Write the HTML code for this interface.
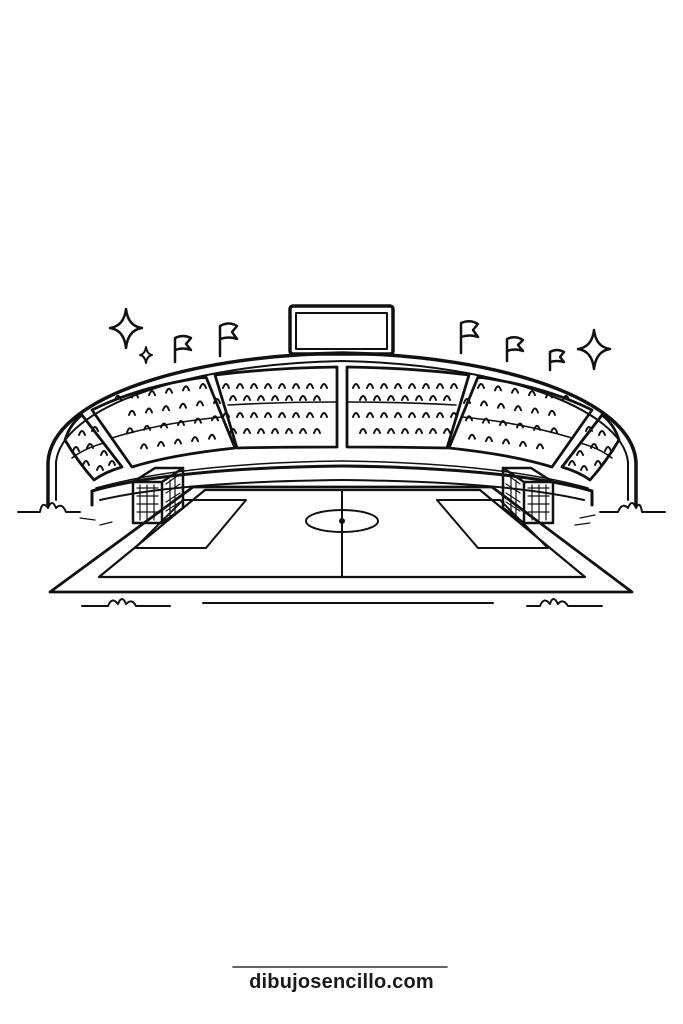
<!DOCTYPE html>
<html><head><meta charset="utf-8"><style>
html,body{margin:0;padding:0;background:#fff;}
body{width:683px;height:1024px;position:relative;overflow:hidden;}
svg{position:absolute;left:0;top:0;}
.t{position:absolute;left:0;width:683px;top:971px;text-align:center;font-family:"Liberation Sans",sans-serif;font-weight:bold;font-size:20px;color:#1a1a1a;letter-spacing:0.2px;}
</style></head><body>
<svg width="683" height="1024" viewBox="0 0 683 1024" fill="none" stroke="#111" stroke-linecap="round" stroke-linejoin="round">
<!-- scoreboard -->
<rect x="290" y="306" width="103" height="48" rx="3" stroke-width="3.5"/>
<rect x="296" y="313" width="91" height="36" stroke-width="2"/>
<!-- sparkles -->
<path d="M126,309 Q128,326 142,328 Q128,330 126,348 Q124,330 110,328 Q124,326 126,309Z" stroke-width="2.5"/>
<path d="M146,347 Q147,354 152,355 Q147,356 146,363 Q145,356 140,355 Q145,354 146,347Z" stroke-width="2"/>
<path d="M594,330 Q596,347 610,349 Q596,351 594,369 Q592,351 578,349 Q592,347 594,330Z" stroke-width="2.5"/>
<!-- flags -->
<g stroke-width="2.5">
<path d="M175,362 L175,338 Q183,334 191,338 L186,344 L191,350 Q183,347 175,350"/>
<path d="M220,356 L220,326 Q229,321 237,326 L232,332 L237,339 Q229,336 220,339"/>
<path d="M461,353 L461,323 Q470,319 478,324 L473,330 L478,337 Q470,334 461,337"/>
<path d="M507,361 L507,339 Q515,335 523,340 L518,345 L523,351 Q515,348 507,351"/>
<path d="M550,370 L550,352 Q557,348 564,352 L560,357 L564,362 Q557,360 550,362"/>
</g>
<!-- stadium outline -->
<path d="M48,506 L48,462 C52,400 180,356 342,353 C504,356 632,400 636,462 L636,506" stroke-width="3.5"/>
<path d="M56,500 L56,462 C62,408 185,364 342,361 C499,364 622,408 628,462 L628,500" stroke-width="2"/>
<path d="M92,505 L92,491 C150,474 250,467 342,466 C434,467 534,474 592,491 L592,505" stroke-width="3"/>
<path d="M96,488 C160,470 250,462 342,461" stroke-width="1.5"/>
<path d="M588,488 C524,470 434,462 342,461" stroke-width="1.5"/>
<path d="M100,500 C160,486 250,481 342,480 C434,481 524,486 584,500" stroke-width="2"/>
<!-- panels -->
<g stroke-width="2.8">
<path d="M65,440 Q70,424 82,415 L122,467 Q105,472 94,480 Q78,462 65,440Z"/>
<path d="M92,410 Q140,386 206,377 L235,448 Q170,455 132,467 Z"/>
<path d="M215,375 Q270,368 337,367 L337,447 Q280,447 237,448 Z"/>
<path d="M347,367 Q414,368 469,375 L447,448 Q404,447 347,447 Z"/>
<path d="M478,377 Q544,386 592,410 L552,467 Q514,455 449,448 Z"/>
<path d="M619,440 Q614,424 602,415 L562,467 Q579,472 590,480 Q606,462 619,440Z"/>
</g>
<g stroke-width="1.6">
<path d="M72,458 Q85,448 104,443"/>
<path d="M112,438 Q160,423 222,417"/>
<path d="M228,405 Q280,402 337,402"/>
<path d="M347,402 Q404,402 456,405"/>
<path d="M462,417 Q524,423 572,438"/>
<path d="M580,443 Q599,448 612,458"/>
</g>
<g id="seats" stroke-width="2"></g>
<!-- field -->
<path d="M193,487 L492,487 L632,592 L50,592 Z" stroke-width="2.8"/>
<path d="M205,490 L480,490 L585,577 L99,577 Z" stroke-width="2.2"/>
<line x1="342" y1="490" x2="342" y2="577" stroke-width="2"/>
<ellipse cx="342" cy="521" rx="36" ry="11" stroke-width="2"/>
<circle cx="342" cy="521" r="2.5" fill="#111"/>
<path d="M183,500 L246,500 L206,548 L135,548 Z" stroke-width="2"/>
<path d="M437,500 L500,500 L548,548 L478,548 Z" stroke-width="2"/>
<!-- goals -->
<g stroke-width="2.5">
<path d="M133,482 L162,482 L162,523 L133,523 Z"/>
<path d="M162,482 L183,468 L183,508 L162,523"/>
<path d="M133,482 L155,468 L183,468"/>
<path d="M553,482 L524,482 L524,523 L553,523 Z"/>
<path d="M524,482 L503,468 L503,508 L524,523"/>
<path d="M553,482 L531,468 L503,468"/>
</g>
<g stroke-width="1.2">
<path d="M137,488H158M137,496H158M137,504H158M137,512H158M140,485V520M147,485V520M154,485V520"/>
<path d="M166,484L180,474M166,493L180,484M166,502L180,493M166,511L180,502M170,480V518M175,476V514"/>
<path d="M528,488H549M528,496H549M528,504H549M528,512H549M532,485V520M539,485V520M546,485V520"/>
<path d="M520,484L506,474M520,493L506,484M520,502L506,493M520,511L506,502M516,480V518M511,476V514"/>
</g>
<!-- grass & ground lines -->
<g stroke-width="2">
<path d="M18,512 L40,512 Q42,500 48,508 Q52,498 56,508 Q62,502 66,512 L80,512"/>
<path d="M665,512 L642,512 Q640,500 636,508 Q632,498 628,508 Q622,502 618,512 L600,512"/>
<path d="M82,606 L108,606 Q112,596 118,604 Q122,594 126,604 Q132,598 136,606 L170,606"/>
<path d="M527,606 L540,606 Q544,596 550,604 Q553,594 558,604 Q563,598 568,606 L602,606"/>
<line x1="203" y1="603" x2="493" y2="603"/>
<path d="M100,525 L112,522 M80,518 L95,520 M580,518 L595,515 M575,525 L590,523" stroke-width="1.2"/>
</g>
<line x1="233" y1="967" x2="447" y2="967" stroke="#333" stroke-width="1.5"/>
</svg>
<div class="t">dibujosencillo.com</div>
<script>
var g=document.getElementById('seats'),s='';
function arch(x,y){s+='M'+(x-3)+','+(y+3)+' Q'+x+','+(y-5)+' '+(x+3)+','+(y+3)+' ';}
function fill(rows,x0,x1,step){rows.forEach(function(r,i){for(var x=x0+(i%2)*step/2;x<=x1;x+=step){arch(x+(r[1]||0)*(x-x0),r[0]+(r[1]||0)*0);}});}
// P3 / P4
[385,397,414,430].forEach(function(y,i){for(var x=226+(i%2)*7;x<=330;x+=14)arch(x,y);for(var x=356+(i%2)*7;x<=460;x+=14)arch(x,y);});
// P2 / P5 (slanted)
for(var r=0;r<4;r++){var yb=[398,415,432,450][r];for(var k=0;k<6;k++){var x=118+r*6+k*17+(r%2)*8;var y=yb-(x-110)*0.14;if(x<225-r*2){arch(x,y);arch(684-x,y);}}}
// P1 / P6
[[82,432],[95,428],[76,448],[90,445],[104,452],[86,462],[100,467],[112,462]].forEach(function(p){arch(p[0],p[1]);arch(684-p[0],p[1]);});
g.innerHTML='<path d="'+s+'"/>';
</script>
</body></html>
